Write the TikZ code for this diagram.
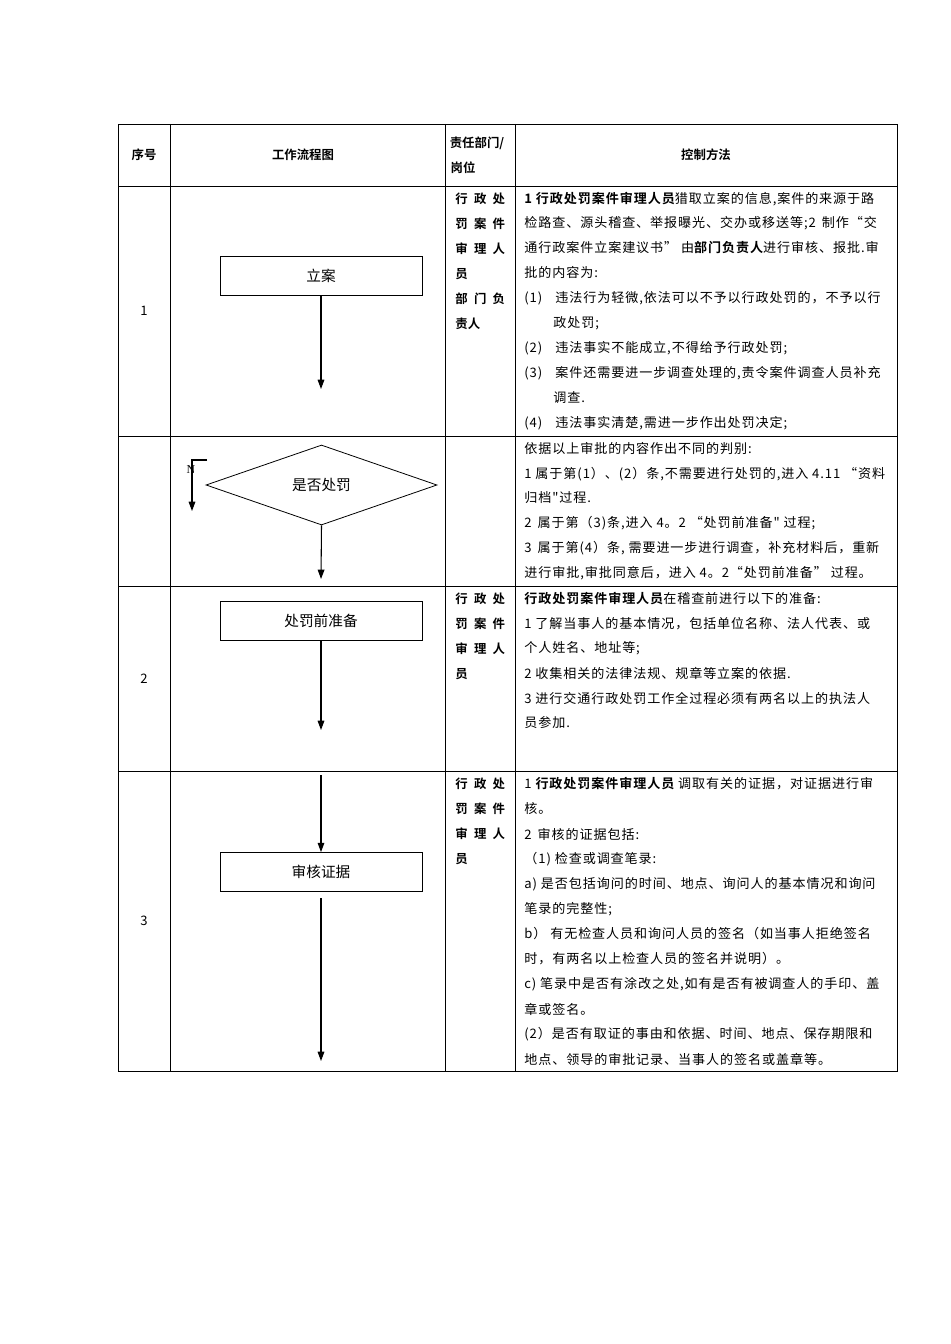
\documentclass[tikz,border=0pt]{standalone}
\usepackage{fontspec}
\setmainfont{Liberation Serif}
\newfontfamily\cjk[LetterSpace=7]{Noto Sans CJK SC}
\newfontfamily\cjkb[LetterSpace=7]{Noto Sans CJK SC Bold}
\newfontfamily\cjkp{Noto Sans CJK SC}
\newfontfamily\cjkpb{Noto Sans CJK SC Bold}
\usetikzlibrary{shapes.geometric,arrows.meta}
\begin{document}
\begin{tikzpicture}[x=0.75pt,y=-0.75pt,
  ln/.style={anchor=west,inner sep=0pt,font=\cjk\fontsize{9.8}{11}\selectfont},
  hd/.style={inner sep=0pt,font=\cjkpb\fontsize{9.3}{11}\selectfont},
  dp/.style={anchor=west,inner sep=0pt,font=\cjkpb\fontsize{9.3}{11}\selectfont},
  fbox/.style={draw,minimum width=202*0.75pt,minimum height=39*0.75pt,font=\cjkp\fontsize{11}{13}\selectfont,inner sep=0pt},
  arr/.style={-{Triangle[length=7pt,width=5pt]},line width=0.8pt}]
\useasboundingbox (0,0) rectangle (950,1344);
\tikzset{every path/.style={line width=0.6pt}}
% table
\draw (118,124) rectangle (897,1071);
\foreach \x in {170,445,515} \draw (\x,124) -- (\x,1071);
\foreach \y in {186,436,586,771} \draw (118,\y) -- (897,\y);
% header
\node[hd] (h1) at (144,155) {序号};
\node[hd] (h2) at (303,155) {工作流程图};
\node[hd] (h3) at (477,143) {责任部门/};
\node[hd] (h3b) at (463,168) {岗位};
\node[hd] (h4) at (706,155) {控制方法};
% numbers
\node[ln,anchor=center] (n1) at (144,311) {1};
\node[ln,anchor=center] (n2) at (144,679) {2};
\node[ln,anchor=center] (n3) at (144,921) {3};
% flow
\node[fbox] (b1) at (321,275.5) {立案};
\coordinate (e1) at (321,389);
\draw[arr] (b1.south) -- (e1);
\node[draw,diamond,aspect=2.9,minimum width=231*0.75pt,minimum height=80*0.75pt,inner sep=0pt,font=\cjkp\fontsize{11}{13}\selectfont] (d) at (321.5,485) {是否处罚};
\coordinate (e2) at (321,579);
\draw[arr] (d.south) -- (e2);
\coordinate (na) at (207,460); \coordinate (nb) at (192,460); \coordinate (nc) at (192,511);
\draw[arr] (na) -- (nb) -- (nc);
\node[inner sep=0pt,font=\fontsize{9}{10}\selectfont] (N) at (191,470) {N};
\node[fbox] (b2) at (321,620.5) {处罚前准备};
\coordinate (e3) at (321,730);
\draw[arr] (b2.south) -- (e3);
\coordinate (s4) at (321,775);
\node[fbox] (b3) at (321,872) {审核证据};
\draw[arr] (s4) -- (b3.north);
\coordinate (s5) at (321,898); \coordinate (e5) at (321,1061);
\draw[arr] (s5) -- (e5);
% dept
\node[dp] (p1) at (455,199) {行\,\,\,政\,\,\,处};
\node[dp] (p2) at (455,224) {罚\,\,\,案\,\,\,件};
\node[dp] (p3) at (455,249) {审\,\,\,理\,\,\,人};
\node[dp] (p4) at (455,274) {员};
\node[dp] (p5) at (455,299) {部\,\,\,门\,\,\,负};
\node[dp] (p6) at (455,324) {责人};
\node[dp] (q1) at (455,599) {行\,\,\,政\,\,\,处};
\node[dp] (q2) at (455,624) {罚\,\,\,案\,\,\,件};
\node[dp] (q3) at (455,649) {审\,\,\,理\,\,\,人};
\node[dp] (q4) at (455,674) {员};
\node[dp] (r1) at (455,784) {行\,\,\,政\,\,\,处};
\node[dp] (r2) at (455,809) {罚\,\,\,案\,\,\,件};
\node[dp] (r3) at (455,834) {审\,\,\,理\,\,\,人};
\node[dp] (r4) at (455,859) {员};
% control text row1
\node[ln] (a1) at (524,199) {{\cjkb 1 行政处罚案件审理人员}猎取立案的信息,案件的来源于路};
\node[ln] (a2) at (524,223) {检路查、源头稽查、举报曝光、交办或移送等;2\, 制作“交};
\node[ln] (a3) at (524,248) {通行政案件立案建议书” 由{\cjkb 部门负责人}进行审核、报批.审};
\node[ln] (a4) at (524,273) {批的内容为:};
\node[ln] (a5) at (524,298) {(1)\quad 违法行为轻微,依法可以不予以行政处罚的，不予以行};
\node[ln] (a6) at (553,323) {政处罚;};
\node[ln] (a7) at (524,348) {(2)\quad 违法事实不能成立,不得给予行政处罚;};
\node[ln] (a8) at (524,373) {(3)\quad 案件还需要进一步调查处理的,责令案件调查人员补充};
\node[ln] (a9) at (553,398) {调查.};
\node[ln] (a10) at (524,423) {(4)\quad 违法事实清楚,需进一步作出处罚决定;};
% row2
\node[ln] (c1) at (524,449) {依据以上审批的内容作出不同的判别:};
\node[ln] (c2) at (524,474) {1 属于第(1）、(2）条,不需要进行处罚的,进入 4.11 “资料};
\node[ln] (c3) at (524,498) {归档"过程.};
\node[ln] (c4) at (524,523) {2\, 属于第（3)条,进入 4。2 “处罚前准备" 过程;};
\node[ln] (c5) at (524,548) {3\, 属于第(4）条, 需要进一步进行调查，补充材料后，重新};
\node[ln] (c6) at (524,573) {进行审批,审批同意后，进入 4。2“处罚前准备” 过程。};
% row3
\node[ln] (f1) at (524,599) {{\cjkb 行政处罚案件审理人员}在稽查前进行以下的准备:};
\node[ln] (f2) at (524,624) {1 了解当事人的基本情况，包括单位名称、法人代表、或};
\node[ln] (f3) at (524,648) {个人姓名、地址等;};
\node[ln] (f4) at (524,673) {2 收集相关的法律法规、规章等立案的依据.};
\node[ln] (f5) at (524,698) {3 进行交通行政处罚工作全过程必须有两名以上的执法人};
\node[ln] (f6) at (524,723) {员参加.};
% row4
\node[ln] (g1) at (524,784) {1 {\cjkb 行政处罚案件审理人员} 调取有关的证据，对证据进行审};
\node[ln] (g2) at (524,809) {核。};
\node[ln] (g3) at (524,834) {2\, 审核的证据包括:};
\node[ln] (g4) at (524,859) {（1) 检查或调查笔录:};
\node[ln] (g5) at (524,884) {a) 是否包括询问的时间、地点、询问人的基本情况和询问};
\node[ln] (g6) at (524,909) {笔录的完整性;};
\node[ln] (g7) at (524,934) {b） 有无检查人员和询问人员的签名（如当事人拒绝签名};
\node[ln] (g8) at (524,959) {时，有两名以上检查人员的签名并说明）。};
\node[ln] (g9) at (524,984) {c) 笔录中是否有涂改之处,如有是否有被调查人的手印、盖};
\node[ln] (g10) at (524,1009) {章或签名。};
\node[ln] (g11) at (524,1034) {(2）是否有取证的事由和依据、时间、地点、保存期限和};
\node[ln] (g12) at (524,1059) {地点、领导的审批记录、当事人的签名或盖章等。};
\end{tikzpicture}
\end{document}
